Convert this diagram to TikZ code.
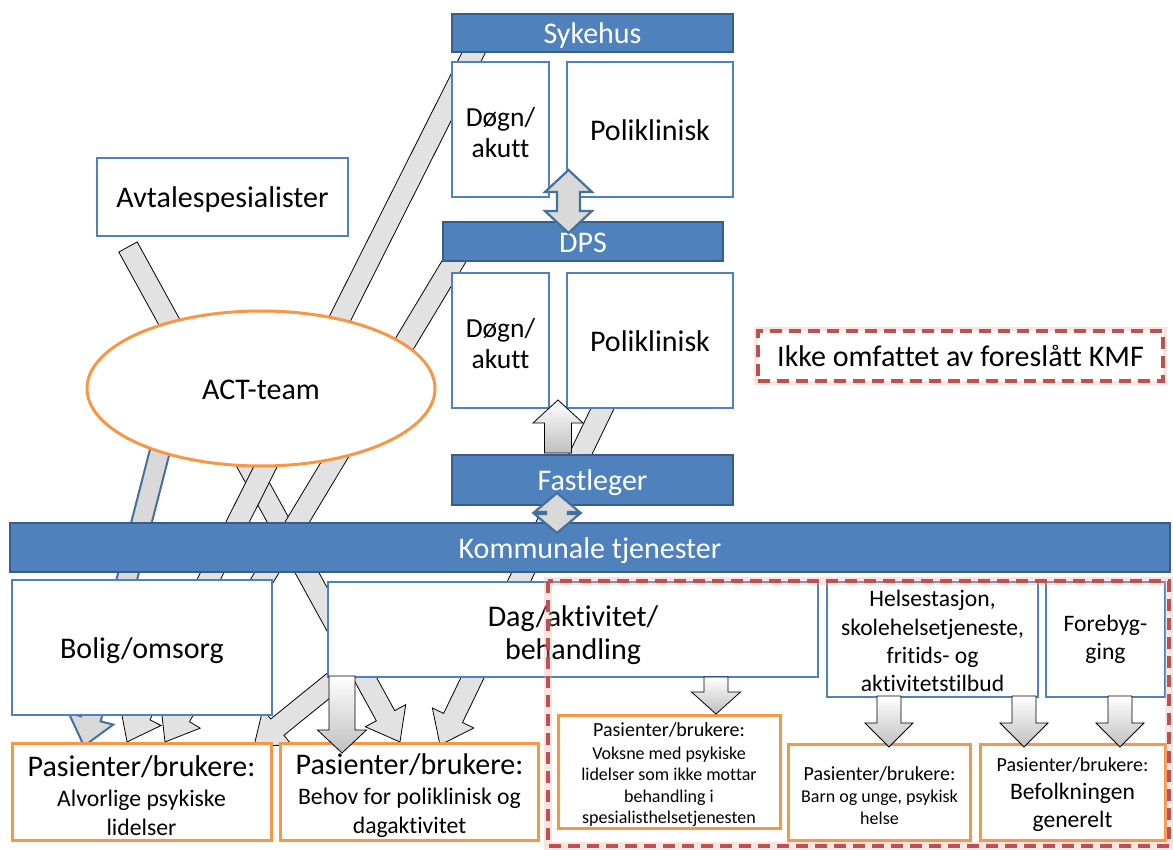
\documentclass[tikz,border=0pt]{standalone}
\usepackage{fontspec}
\setmainfont{Carlito}[Ligatures=NoCommon]
\usetikzlibrary{shapes.geometric}

\definecolor{barblue}{HTML}{4F81BD}
\definecolor{barline}{HTML}{385D8A}
\definecolor{boxline}{HTML}{4F81BD}
\definecolor{actorange}{HTML}{F79646}
\definecolor{kmfred}{HTML}{C0504D}
\definecolor{kmfglow}{HTML}{E8B4B3}
\definecolor{bandgray}{HTML}{E2E2E2}
\definecolor{arrowgray}{HTML}{D9D9D9}
\definecolor{arrowblue}{HTML}{41719C}

\newcommand{\pbig}{\fontsize{30}{33}\selectfont}
\newcommand{\pmid}{\fontsize{20}{23}\selectfont}
\newcommand{\lift}[1]{\rule{0pt}{#1}}

\pgfdeclarelayer{back}
\pgfsetlayers{back,main}

\tikzset{
  ba shaft/.store in=\bashaft, ba head/.store in=\bahead, ba tip/.store in=\batip,
  ba look/.style={draw},
  ba shaft=10.5, ba head=23, ba tip=30,
  oneline/.style={text height=21.5pt, text depth=0pt},
  bar/.style={draw=barline, line width=2pt, fill=barblue, text=white, inner sep=0pt,
    font=\pbig, oneline},
  unit/.style={draw=boxline, line width=2.5pt, fill=white, inner sep=0pt, align=center,
    font=\pbig},
  target/.style={draw=actorange, line width=3pt, fill=white, inner sep=0pt, align=center},
  kmf/.style={draw=kmfred, line width=3.5pt, dash pattern=on 12pt off 7pt,
    preaction={draw=kmfglow, solid, line width=8pt, opacity=0.35}},
  band/.style={ba shaft=10.5, ba head=23, ba tip=30,
    ba look/.style={draw=black, line width=0.8pt, fill=bandgray, line join=miter}},
  blueband/.style={ba shaft=10, ba head=23, ba tip=28,
    ba look/.style={draw=arrowblue, line width=2pt, fill=arrowgray, line join=miter}},
  flow/.style={ba look/.style={draw=black, line width=0.8pt, top color=white,
    bottom color=gray!50, line join=miter}},
  blueflow/.style={ba look/.style={draw=arrowblue, line width=2.2pt, fill=arrowgray,
    line join=miter}},
}

% length and angle from #1 to #2
\newcommand{\bameasure}[2]{%
  \pgfpointdiff{\pgfpointanchor{#1}{center}}{\pgfpointanchor{#2}{center}}%
  \pgfgetlastxy{\bax}{\bay}%
  \pgfmathsetmacro{\baang}{atan2(\bay,\bax)}%
  \pgfmathsetmacro{\balen}{100*veclen(\bax/100,\bay/100)}%
}
% block arrow, tail at #2, tip at #3
\newcommand{\blockarrow}[3][]{%
  \begin{scope}[#1]
    \bameasure{#2}{#3}
    \draw[ba look, shift={(#2)}, rotate=\baang]
      (0pt,-\bashaft pt) -- ({\balen pt-\batip pt},-\bashaft pt)
      -- ({\balen pt-\batip pt},-\bahead pt) -- (\balen pt,0pt)
      -- ({\balen pt-\batip pt},\bahead pt) -- ({\balen pt-\batip pt},\bashaft pt)
      -- (0pt,\bashaft pt) -- cycle;
  \end{scope}}
% block arrow with a head at each end
\newcommand{\dblarrow}[3][]{%
  \begin{scope}[#1]
    \bameasure{#2}{#3}
    \draw[ba look, shift={(#2)}, rotate=\baang]
      (0pt,0pt) -- (\batip pt,\bahead pt) -- (\batip pt,\bashaft pt)
      -- ({\balen pt-\batip pt},\bashaft pt) -- ({\balen pt-\batip pt},\bahead pt)
      -- (\balen pt,0pt) -- ({\balen pt-\batip pt},-\bahead pt)
      -- ({\balen pt-\batip pt},-\bashaft pt) -- (\batip pt,-\bashaft pt)
      -- (\batip pt,-\bahead pt) -- cycle;
  \end{scope}}

\begin{document}
\begin{tikzpicture}[x=1pt, y=-1pt]
\useasboundingbox (0,0) rectangle (1173,850);

% Sykehus
\node[bar, minimum width=281pt, minimum height=38pt] (sykehus) at (592.5,33) {Sykehus};
\node[unit, font=\fontsize{27.5}{31}\selectfont, minimum width=97pt, minimum height=135pt]
  (sdogn) at (500.5,129.5) {\lift{25pt}Døgn/\\akutt};
\node[unit, oneline, minimum width=166pt, minimum height=135pt] (spoli) at (650,129.5) {Poliklinisk};

% DPS
\node[bar, minimum width=280pt, minimum height=39pt] (dps) at (583,241.5) {DPS};
\node[unit, font=\fontsize{27.5}{31}\selectfont, minimum width=97pt, minimum height=135pt]
  (ddogn) at (500.5,340.5) {\lift{25pt}Døgn/\\akutt};
\node[unit, oneline, minimum width=166pt, minimum height=135pt] (dpoli) at (650,340.5) {Poliklinisk};

% Fastleger og kommune
\node[bar, minimum width=281pt, minimum height=50pt] (fastlege) at (592.5,480) {Fastleger};
\node[bar, minimum width=1160pt, minimum height=49pt] (kommune) at (590,547.5) {Kommunale tjenester};

% venstre side
\node[unit, oneline, minimum width=251pt, minimum height=78pt] (avtale) at (222.5,197) {Avtalespesialister};
\node[ellipse, draw=actorange, line width=3pt, fill=white, inner sep=0pt, font=\pbig, oneline,
  minimum width=348pt, minimum height=155pt] (act) at (261,388.5) {ACT-team};
\node[unit, oneline, minimum width=260pt, minimum height=135pt] (bolig) at (142,647.5) {Bolig/omsorg};
\node[unit, minimum width=490pt, minimum height=95pt] (dag) at (573,629.5)
  {\lift{33pt}Dag/aktivitet/\\behandling};
\node[unit, font=\fontsize{23.6}{28.3}\selectfont, minimum width=211pt, minimum height=115pt]
  (helse) at (932.5,639.5) {\lift{20pt}Helsestasjon,\\skolehelsetjeneste,\\fritids- og\\aktivitetstilbud};
\node[unit, font=\fontsize{23.6}{28.3}\selectfont, minimum width=119pt, minimum height=115pt]
  (forebygg) at (1105.5,639.5) {Forebyg-\\ging};

% Pasienter/brukere
\node[target, font=\fontsize{23.7}{29}\selectfont, minimum width=259pt, minimum height=97pt]
  (palv) at (141.5,792) {{\pbig\lift{29pt}Pasienter/brukere:}\\[1pt]Alvorlige psykiske\\lidelser};
\node[target, font=\fontsize{23.7}{29}\selectfont, minimum width=258pt, minimum height=97pt]
  (pbeh) at (409.5,792) {{\pbig\lift{29pt}Pasienter/brukere:}\\[1pt]Behov for poliklinisk og\\dagaktivitet};
\node[target, font=\fontsize{18}{21.5}\selectfont, minimum width=222pt, minimum height=113pt]
  (pvok) at (669,771.5) {{\pmid\lift{21pt}Pasienter/brukere:}\\[1pt]Voksne med psykiske\\lidelser som ikke mottar\\behandling i\\spesialisthelsetjenesten};
\node[target, font=\fontsize{18}{22}\selectfont, minimum width=182pt, minimum height=96pt]
  (pbarn) at (879.5,792) {{\pmid\lift{21pt}Pasienter/brukere:}\\Barn og unge, psykisk\\helse};
\node[target, font=\fontsize{23.6}{28}\selectfont, minimum width=185pt, minimum height=96pt]
  (pbef) at (1072.5,792) {{\pmid\lift{19pt}Pasienter/brukere:}\\Befolkningen\\generelt};

% lange piler bak boksene
\coordinate (avt-s) at (128,247);  \coordinate (avt-e) at (400,742);
\coordinate (syk-s) at (480,40);   \coordinate (syk-e) at (127,742);
\coordinate (dps-s) at (462,248);  \coordinate (dps-e) at (165,742);
\coordinate (pol-s) at (609,395);  \coordinate (pol-e) at (440,745);
\coordinate (dag-s) at (375,648);  \coordinate (dag-e) at (254,746);
\coordinate (act-s) at (173,400);  \coordinate (act-e) at (84,746);
\begin{pgfonlayer}{back}
  \blockarrow[band]{avt-s}{avt-e}
  \blockarrow[band]{syk-s}{syk-e}
  \blockarrow[band]{dps-s}{dps-e}
  \blockarrow[band]{pol-s}{pol-e}
  \blockarrow[band]{dag-s}{dag-e}
  \blockarrow[blueband]{act-s}{act-e}
\end{pgfonlayer}

% korte piler
\coordinate (sd-a) at (568.5,170);  \coordinate (sd-b) at (568.5,233);
\dblarrow[blueflow, ba shaft=11.5, ba head=23.5, ba tip=22]{sd-a}{sd-b}
\coordinate (fk-a) at (557,493);  \coordinate (fk-b) at (557,533);
\dblarrow[blueflow, ba shaft=11, ba head=22.5, ba tip=19]{fk-a}{fk-b}
\coordinate (up-s) at (558,453);  \coordinate (up-e) at (558,400);
\blockarrow[flow, ba shaft=13.5, ba head=25, ba tip=23]{up-s}{up-e}
\coordinate (db-s) at (342,676);  \coordinate (db-e) at (342,753);
\blockarrow[flow, ba shaft=13, ba head=24.5, ba tip=23]{db-s}{db-e}
\coordinate (dv-s) at (716,677);  \coordinate (dv-e) at (716,714);
\blockarrow[flow, ba shaft=12, ba head=24.5, ba tip=22]{dv-s}{dv-e}
\foreach \x/\n in {889/hb, 1024/hf, 1120/ff}{
  \coordinate (\n-s) at (\x,696);  \coordinate (\n-e) at (\x,747);
  \blockarrow[flow, ba shaft=12, ba head=24, ba tip=24]{\n-s}{\n-e}
}

% ikke omfattet av KMF
\draw[kmf] (548,581) rectangle (1169,846);
\node[kmf, fill=white, oneline, minimum width=405pt, minimum height=50pt, font=\pbig]
  (ikke) at (960.5,356) {Ikke omfattet av foreslått KMF};
\end{tikzpicture}
\end{document}
